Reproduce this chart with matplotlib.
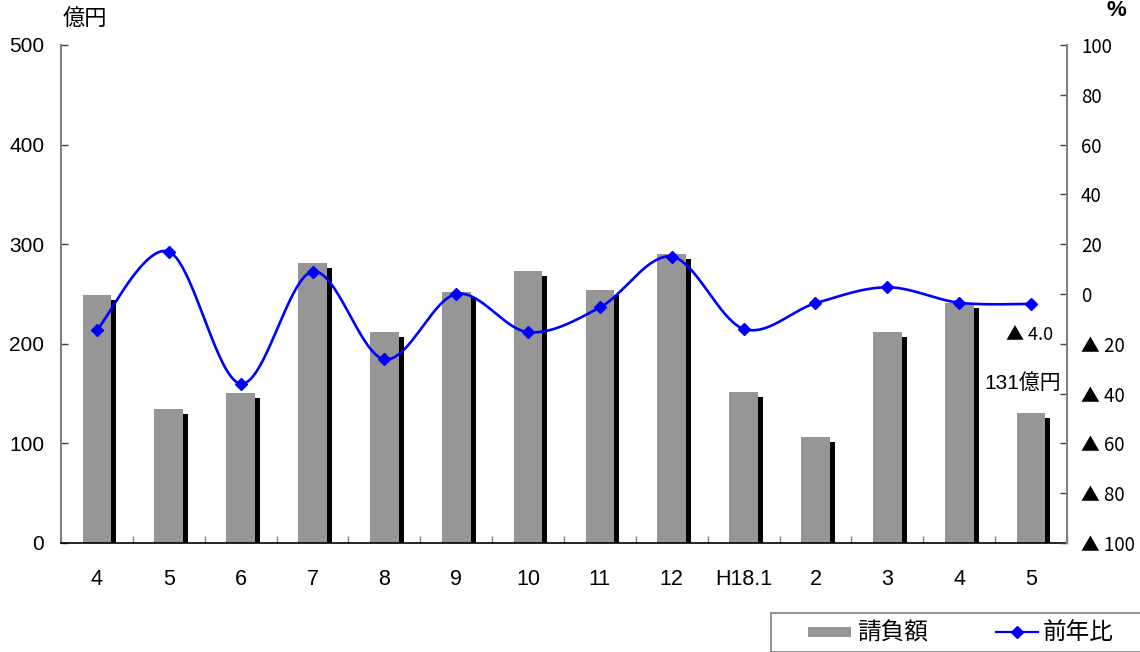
import numpy as np
import matplotlib
matplotlib.use("Agg")
import matplotlib.pyplot as plt
import matplotlib.patheffects as pe
from matplotlib.patches import Rectangle
from matplotlib.lines import Line2D

plt.rcParams['font.family'] = ['Liberation Sans', 'Noto Sans CJK JP', 'DejaVu Sans']
CJK = ['Noto Sans CJK JP', 'DejaVu Sans']

# Monthly contract amounts (億円) and year-on-year change (%)
months = ["4", "5", "6", "7", "8", "9", "10", "11", "12", "H18.1", "2", "3", "4", "5"]
amount = [249, 135, 151, 281, 212, 252, 273, 254, 290, 152, 106, 212, 241, 131]
yoy = [-14.5, 17.0, -36.0, 9.0, -26.2, 0.0, -15.3, -5.4, 15.0, -14.0, -3.7, 2.7, -3.5, -4.0]

left_ticks = [0, 100, 200, 300, 400, 500]
right_ticks = [100, 80, 60, 40, 20, 0, -20, -40, -60, -80, -100]


def right_label(v):
    return "▲ %d" % -v if v < 0 else "%d" % v


def smooth(xs, ys, n=40):
    """Catmull-Rom style Bezier smoothing through every point."""
    xs = np.asarray(xs, float)
    ys = np.asarray(ys, float)
    px = np.concatenate([[xs[0]], xs, [xs[-1]]])
    py = np.concatenate([[ys[0]], ys, [ys[-1]]])
    out_x, out_y = [], []
    t = np.linspace(0, 1, n)
    for i in range(1, len(px) - 2):
        p0 = np.array([px[i - 1], py[i - 1]])
        p1 = np.array([px[i], py[i]])
        p2 = np.array([px[i + 1], py[i + 1]])
        p3 = np.array([px[i + 2], py[i + 2]])
        c1 = p1 + (p2 - p0) / 6.0
        c2 = p2 - (p3 - p1) / 6.0
        b = ((1 - t) ** 3)[:, None] * p1 + (3 * (1 - t) ** 2 * t)[:, None] * c1 \
            + (3 * (1 - t) * t ** 2)[:, None] * c2 + (t ** 3)[:, None] * p2
        out_x.extend(b[:, 0])
        out_y.extend(b[:, 1])
    return np.array(out_x), np.array(out_y)


fig = plt.figure(figsize=(11.4, 6.52), dpi=100)
ax = fig.add_axes([61 / 1140, 1 - 543 / 652, (1067 - 61) / 1140, (543 - 45) / 652])
ax2 = ax.twinx()

x = np.arange(len(months))
bar_color = "#969696"
shadow = [pe.SimplePatchShadow(offset=(3.6, -3.6), shadow_rgbFace="black", alpha=1.0), pe.Normal()]
bars = ax.bar(x, amount, width=0.40, color=bar_color, edgecolor="none", zorder=2)
for b in bars:
    b.set_path_effects(shadow)

ax.set_xlim(-0.5, len(months) - 0.5)
ax.set_ylim(0, 500)
ax.set_yticks(left_ticks)
ax.set_xticks(x)
ax.set_xticklabels(months, fontsize=15.5)
ax.set_xticks(np.arange(len(months) + 1) - 0.5, minor=True)
ax.tick_params(axis="x", which="major", length=0, pad=19)
ax.tick_params(axis="x", which="minor", direction="in", length=5, color="#808080", width=1)
ax.tick_params(axis="y", direction="in", length=5, width=1, color="#404040", labelsize=15, pad=12)

for side in ["top", "right"]:
    ax.spines[side].set_visible(False)
ax.spines["left"].set_color("#808080")
ax.spines["left"].set_linewidth(1.5)
ax.spines["bottom"].set_color("black")
ax.spines["bottom"].set_linewidth(1.2)

sx, sy = smooth(x, yoy)
ax2.plot(sx, sy, color="#0000FF", lw=1.9, zorder=3)
ax2.plot(x, yoy, linestyle="none", marker="D", markersize=6.5, color="#0000FF", zorder=4)
ax2.set_ylim(-100, 100)
ax2.set_yticks(right_ticks)
ax2.set_yticklabels([right_label(v) for v in right_ticks], family=CJK)
ax2.tick_params(axis="y", direction="in", length=5, width=1, color="#404040", labelsize=13.5, pad=10)
for side in ["top", "left", "bottom"]:
    ax2.spines[side].set_visible(False)
ax2.spines["right"].set_color("#808080")
ax2.spines["right"].set_linewidth(1.5)

# value notes for the latest month
ax2.annotate("▲ %.1f" % -yoy[-1], xy=(x[-1], yoy[-1]), xytext=(-1, -22),
             textcoords="offset points", ha="center", va="center", fontsize=13, family=CJK)
ax.annotate("%d億円" % amount[-1], xy=(x[-1], amount[-1]), xytext=(-6, 21.5),
            textcoords="offset points", ha="center", va="center", fontsize=15)

# unit labels
fig.text(85 / 1140, 1 - 19 / 652, "億円", fontsize=16, ha="center", va="center")
fig.text(1116 / 1140, 1 - 10 / 652, "%", fontsize=16, fontweight="bold", ha="center", va="center")

# legend box
lx0, ly0 = 771, 613
fig.patches.append(Rectangle((lx0 / 1140, 0), 1.0, 1 - ly0 / 652, transform=fig.transFigure,
                             facecolor="white", edgecolor="#808080", lw=1.2, clip_on=False))
fig.patches.append(Rectangle((808 / 1140, 1 - 637 / 652), 43 / 1140, 10 / 652,
                             transform=fig.transFigure, facecolor=bar_color, edgecolor="none"))
fig.text(857 / 1140, 1 - 633 / 652, "請負額", fontsize=17, ha="left", va="center")
fig.lines.append(Line2D([996 / 1140, 1038 / 1140], [1 - 632 / 652, 1 - 632 / 652],
                        transform=fig.transFigure, color="#0000FF", lw=1.6))
fig.lines.append(Line2D([1017 / 1140], [1 - 632 / 652], transform=fig.transFigure,
                        color="#0000FF", marker="D", ms=6, linestyle="none"))
fig.text(1043 / 1140, 1 - 633 / 652, "前年比", fontsize=17, ha="left", va="center")

fig.savefig("out.png", dpi=100)
